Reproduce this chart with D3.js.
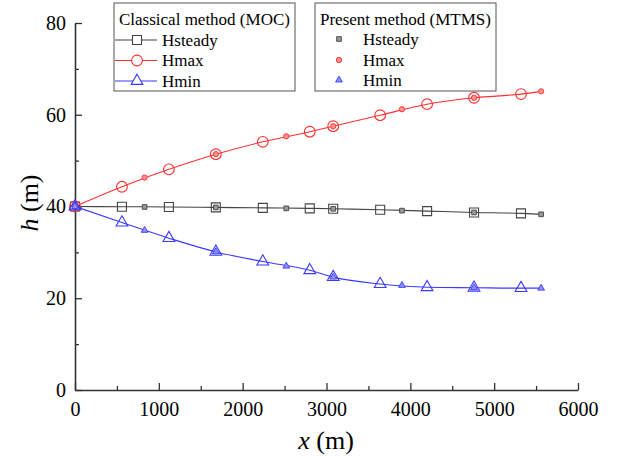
<!DOCTYPE html>
<html>
<head>
<meta charset="utf-8">
<script src="https://cdn.jsdelivr.net/npm/d3@7"></script>
<style>
  body { margin: 0; background: #fff; }
  text { font-family: "Liberation Serif", "Times New Roman", serif; }
</style>
</head>
<body>
<script>
// MOC nodes (open markers + line), line runs on to the pipe end
var mocX = [0, 560, 1120, 1680, 2240, 2800, 3080, 3640, 4200, 4760, 5320, 5560];
var mocSteady = [40.0, 39.95, 39.9, 39.8, 39.7, 39.6, 39.5, 39.3, 39.0, 38.7, 38.5, 38.3];
var mocMax = [40.0, 44.3, 48.1, 51.4, 54.1, 56.3, 57.5, 59.9, 62.3, 63.7, 64.5, 65.1];
var mocMin = [40.0, 36.5, 33.1, 30.1, 28.0, 26.1, 24.6, 23.1, 22.4, 22.3, 22.2, 22.2];

// MTMS results (small markers only)
var mtmsX = [0, 830, 1680, 2520, 3080, 3900, 4760, 5560];
var mtmsSteady = [40.0, 39.9, 39.8, 39.6, 39.5, 39.1, 38.7, 38.3];
var mtmsMax = [40.0, 46.3, 51.4, 55.3, 57.5, 61.2, 63.7, 65.1];
var mtmsMin = [40.0, 34.8, 30.1, 27.0, 24.6, 22.8, 22.3, 22.2];

var xTicks = [0, 1000, 2000, 3000, 4000, 5000, 6000];
var yTicks = [0, 20, 40, 60, 80];
var seriesNames = ["Hsteady", "Hmax", "Hmin"];

var colors = {Hsteady: "#444", Hmax: "#ff3030", Hmin: "#3a3aff"};
var fills = {Hsteady: "#999", Hmax: "#ff9090", Hmin: "#9090ff"};

var width = 618, height = 457;
var svg = d3.select("body").append("svg")
    .attr("width", width)
    .attr("height", height);

var x = d3.scaleLinear().domain([0, 6000]).range([75, 578]);
var y = d3.scaleLinear().domain([0, 80]).range([390, 23]);

// minor ticks first, then major ones with labels
svg.append("g")
    .attr("transform", "translate(0,390)")
    .call(d3.axisBottom(x).tickValues(d3.range(500, 6000, 1000)).tickSize(-4).tickFormat(""))
    .call(function(g) { g.select(".domain").remove(); });
svg.append("g")
    .attr("transform", "translate(75,0)")
    .call(d3.axisLeft(y).tickValues(d3.range(10, 80, 20)).tickSize(-4).tickFormat(""))
    .call(function(g) { g.select(".domain").remove(); });

svg.append("g")
    .attr("transform", "translate(0,390)")
    .call(d3.axisBottom(x).tickValues(xTicks).tickSizeInner(-7).tickSizeOuter(0).tickPadding(12).tickFormat(d3.format("d")));
svg.append("g")
    .attr("transform", "translate(75,0)")
    .call(d3.axisLeft(y).tickValues(yTicks).tickSizeInner(-7).tickSizeOuter(0).tickPadding(9));

svg.selectAll("g").attr("font-family", null).attr("font-size", null);
svg.selectAll(".tick line").attr("stroke", "#333").attr("stroke-width", 1.3);
svg.selectAll(".domain").attr("stroke", "#333").attr("stroke-width", 1.6);
svg.selectAll(".tick text").attr("fill", "#000").style("font-size", "20px");

// axis titles
var xt = svg.append("text")
    .attr("x", 326).attr("y", 449)
    .attr("text-anchor", "middle")
    .style("font-size", "26px");
xt.append("tspan").style("font-style", "italic").text("x");
xt.append("tspan").text(" (m)");

var yt = svg.append("text")
    .attr("transform", "translate(38,203) rotate(-90)")
    .attr("text-anchor", "middle")
    .style("font-size", "26px");
yt.append("tspan").style("font-style", "italic").text("h");
yt.append("tspan").text(" (m)");

var moc = {Hsteady: mocSteady, Hmax: mocMax, Hmin: mocMin};
var mtms = {Hsteady: mtmsSteady, Hmax: mtmsMax, Hmin: mtmsMin};

var bigSymbol = {
    Hsteady: d3.symbol().type(d3.symbolSquare).size(81),
    Hmax: d3.symbol().type(d3.symbolCircle).size(90),
    Hmin: d3.symbol().type(d3.symbolTriangle).size(60)
};
var smallSymbol = {
    Hsteady: d3.symbol().type(d3.symbolSquare).size(22),
    Hmax: d3.symbol().type(d3.symbolCircle).size(22),
    Hmin: d3.symbol().type(d3.symbolTriangle).size(20)
};

var line = d3.line()
    .x(function(d) { return x(d[0]); })
    .y(function(d) { return y(d[1]); })
    .curve(d3.curveMonotoneX);

seriesNames.forEach(function(name) {
    var pts = mocX.map(function(v, i) { return [v, moc[name][i]]; });
    svg.append("path")
        .datum(pts)
        .attr("fill", "none")
        .attr("stroke", colors[name])
        .attr("stroke-width", 1.1)
        .attr("d", line);

    // open markers at MOC nodes (last node is only the line end)
    svg.selectAll(".moc-" + name)
        .data(pts.slice(0, pts.length - 1))
      .enter().append("path")
        .attr("transform", function(d) { return "translate(" + x(d[0]) + "," + y(d[1]) + ")"; })
        .attr("d", bigSymbol[name])
        .attr("fill", "none")
        .attr("stroke", colors[name])
        .attr("stroke-width", 1.1);

    svg.selectAll(".mtms-" + name)
        .data(mtmsX.map(function(v, i) { return [v, mtms[name][i]]; }))
      .enter().append("path")
        .attr("transform", function(d) { return "translate(" + x(d[0]) + "," + y(d[1]) + ")"; })
        .attr("d", smallSymbol[name])
        .attr("fill", fills[name])
        .attr("stroke", colors[name])
        .attr("stroke-width", 0.9);
});

// legends
function legendBox(lx, title, drawSample, textX, rowY) {
    var g = svg.append("g");
    g.append("rect")
        .attr("x", lx).attr("y", 3)
        .attr("width", 181).attr("height", 88)
        .attr("fill", "#fff")
        .attr("stroke", "#555")
        .attr("stroke-width", 1);
    g.append("text")
        .attr("x", lx + 5).attr("y", 24.5)
        .style("font-size", "17px")
        .text(title);
    seriesNames.forEach(function(name, i) {
        drawSample(g, name, rowY[i]);
        g.append("text")
            .attr("x", textX).attr("y", rowY[i] + 5.5)
            .style("font-size", "17px")
            .text(name);
    });
}

legendBox(114, "Classical method (MOC)", function(g, name, cy) {
    g.append("line")
        .attr("x1", 115).attr("x2", 157)
        .attr("y1", cy).attr("y2", cy)
        .attr("stroke", colors[name]).attr("stroke-width", 1.1);
    g.append("path")
        .attr("transform", "translate(137," + cy + ")")
        .attr("d", bigSymbol[name])
        .attr("fill", "#fff")
        .attr("stroke", colors[name]).attr("stroke-width", 1.1);
}, 162, [40, 60.5, 81]);

legendBox(315, "Present method (MTMS)", function(g, name, cy) {
    g.append("path")
        .attr("transform", "translate(339," + cy + ")")
        .attr("d", smallSymbol[name])
        .attr("fill", fills[name])
        .attr("stroke", colors[name]).attr("stroke-width", 0.9);
}, 363, [39, 60, 80]);
</script>
</body>
</html>
